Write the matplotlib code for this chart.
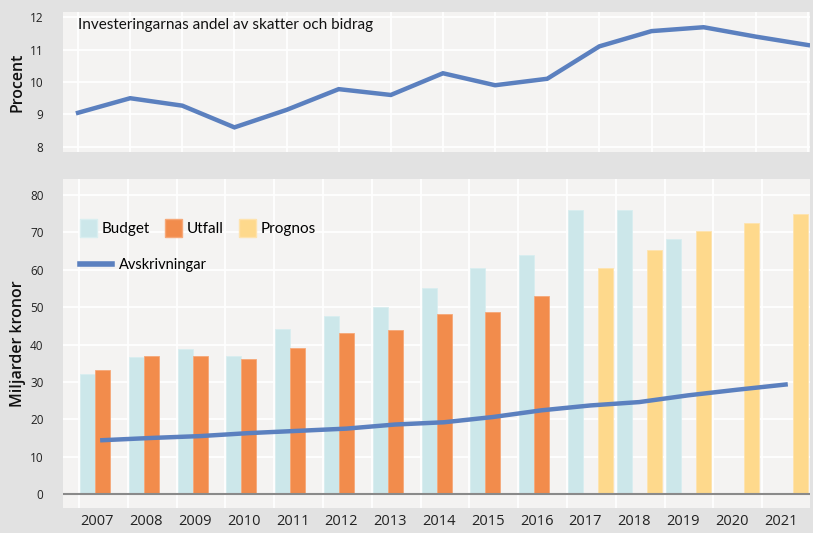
import matplotlib.pyplot as plt
import numpy as np
from matplotlib.patches import Patch
from matplotlib.lines import Line2D

years = ["2007", "2008", "2009", "2010", "2011", "2012", "2013",
         "2014", "2015", "2016", "2017", "2018", "2019", "2020", "2021"]

# andel av skatter och bidrag, procent
andel = [9.05, 9.5, 9.27, 8.6, 9.14, 9.78, 9.6, 10.27, 9.9, 10.1,
         11.1, 11.57, 11.69, 11.4, 11.14]

budget = [32.0, 36.6, 38.8, 36.9, 44.2, 47.6, 50.0, 55.1, 60.4, 63.9,
          76.0, 76.0, 68.2, None, None]
utfall = [33.3, 36.9, 36.8, 36.0, 39.1, 43.1, 43.8, 48.2, 48.6, 52.9,
          None, None, None, None, None]
prognos = [None, None, None, None, None, None, None, None, None, None,
           60.6, 65.4, 70.4, 72.6, 74.9]
avskrivningar = [14.4, 15.0, 15.5, 16.3, 16.9, 17.5, 18.6, 19.2, 20.6,
                 22.4, 23.7, 24.6, 26.4, 27.9, 29.3]

c_budget = "#cce7ea"
c_utfall = "#f28c4c"
c_prognos = "#fed98c"
c_line = "#5b80bf"
c_fig = "#e2e2e2"
c_ax = "#f4f3f2"

tickfont = "Open Sans"
textfont = "Lato"

fig = plt.figure(figsize=(8.13, 5.33), dpi=100, facecolor=c_fig)

# --- top panel
ax1 = fig.add_axes([0.0775, 0.7148, 0.9188, 0.2627])
ax1.set_facecolor(c_ax)
x = np.arange(len(years))
ax1.plot(x, andel, color=c_line, lw=3.2, solid_joinstyle="miter", zorder=3)
ax1.set_xlim(-0.288, 14.04)
ax1.set_ylim(7.84, 12.16)
ax1.set_yticks([8, 9, 10, 11, 12])
ax1.set_xticks(x)
ax1.set_xticklabels([])
ax1.grid(True, color="white", lw=1.3)
ax1.set_axisbelow(True)
for s in ax1.spines.values():
    s.set_visible(False)
ax1.tick_params(length=0, labelsize=8.5, pad=14, labelcolor="#222222")
for t in ax1.get_yticklabels():
    t.set_fontfamily(tickfont)
ax1.set_ylabel("Procent", fontsize=11.5, fontfamily=tickfont, labelpad=3,
               fontweight="semibold", color="#111111")
ax1.text(0.0, 11.75, "Investeringarnas andel av skatter och bidrag",
         fontsize=11, fontfamily=textfont, va="center", color="#111111")

# --- bottom panel
ax2 = fig.add_axes([0.0775, 0.0469, 0.9188, 0.6173])
ax2.set_facecolor(c_ax)
w = 0.307
bx = [i - w / 2 for i, v in enumerate(budget) if v is not None]
bv = [v for v in budget if v is not None]
ux = [i + w / 2 for i, v in enumerate(utfall) if v is not None]
uv = [v for v in utfall if v is not None]
px = [i + 1.5 * w for i, v in enumerate(prognos) if v is not None]
pv = [v for v in prognos if v is not None]
ax2.bar(bx, bv, width=w, color=c_budget, edgecolor="#d9eef0", lw=0.6, zorder=2)
ax2.bar(ux, uv, width=w, color=c_utfall, edgecolor="#f6a878", lw=0.6, zorder=2)
ax2.bar(px, pv, width=w, color=c_prognos, edgecolor="#fee3ae", lw=0.6, zorder=2)
ax2.plot(x + 0.15, avskrivningar, color=c_line, lw=3.2, zorder=3)
ax2.axhline(0, color="#8a8a8a", lw=1.5, zorder=4)

ax2.set_xlim(-0.656, 14.65)
ax2.set_ylim(-3.74, 84.3)
ax2.set_yticks(range(0, 81, 10))
ax2.set_xticks(x + 0.05)
ax2.set_xticklabels(years)
ax2.set_xticks(x - 0.33, minor=True)
ax2.grid(False)
ax2.grid(True, axis="y", color="white", lw=1.3)
ax2.grid(True, axis="x", which="minor", color="white", lw=1.3)
ax2.set_axisbelow(True)
for s in ax2.spines.values():
    s.set_visible(False)
ax2.tick_params(which="both", length=0, labelsize=8.5, labelcolor="#222222")
ax2.tick_params(axis="y", pad=14)
ax2.tick_params(axis="x", labelsize=10.5, pad=4)
for t in ax2.get_yticklabels() + ax2.get_xticklabels():
    t.set_fontfamily(tickfont)
ax2.set_ylabel("Miljarder kronor", fontsize=11.5, fontfamily=tickfont,
               labelpad=3, fontweight="semibold", color="#111111")

h1 = [Patch(facecolor=c_budget, edgecolor="#d9eef0"),
      Patch(facecolor=c_utfall, edgecolor="#f6a878"),
      Patch(facecolor=c_prognos, edgecolor="#fee3ae")]
leg1 = ax2.legend(h1, ["Budget", "Utfall", "Prognos"], ncol=3,
                  loc="upper left", bbox_to_anchor=(0.005, 0.92),
                  frameon=False, prop={"family": textfont, "size": 11},
                  handlelength=1.1, handleheight=1.4, handletextpad=0.3,
                  columnspacing=1.0)
ax2.add_artist(leg1)
ax2.legend([Line2D([0], [0], color=c_line, lw=4)], ["Avskrivningar"],
           loc="upper left", bbox_to_anchor=(0.005, 0.8),
           frameon=False, prop={"family": textfont, "size": 10.5},
           handlelength=2.2, handletextpad=0.5)

fig.savefig("out.png", dpi=100, facecolor=c_fig)
